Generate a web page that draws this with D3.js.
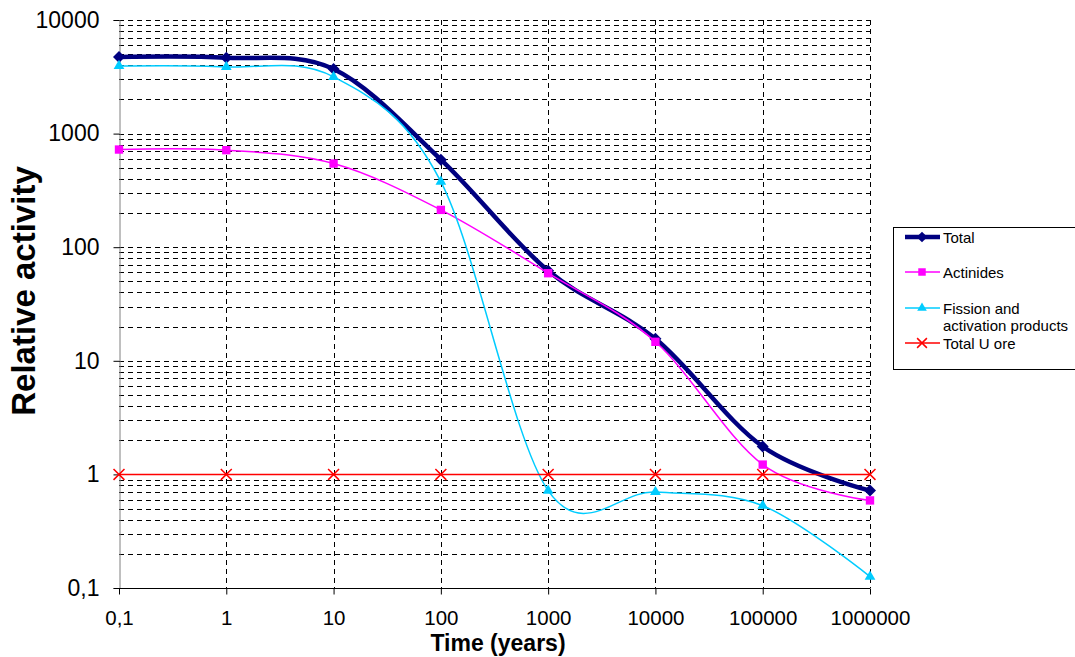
<!DOCTYPE html>
<html>
<head>
<meta charset="utf-8">
<script src="https://cdn.jsdelivr.net/npm/d3@7"></script>
<style>
  body { margin: 0; background: #fff; }
  svg { font-family: Arial, "Liberation Sans", sans-serif; }
</style>
</head>
<body>
<div id="chart"></div>
<script>
// Categories on the x axis (time in years)
const categories = ["0,1", "1", "10", "100", "1000", "10000", "100000", "1000000"];

// Series values
const total = [4720, 4650, 3700, 590, 62, 15.6, 1.76, 0.72];
const actinides = [724, 715, 545, 213, 59, 14.7, 1.22, 0.59];
const fission = [3940, 3870, 3160, 378, 0.72, 0.70, 0.53, 0.126];
const uranium = [1, 1, 1, 1, 1, 1, 1, 1];

const yTicks = [0.1, 1, 10, 100, 1000, 10000];

const seriesList = [
    { name: "Total", values: total, color: "#000080", width: 4.5, symbol: d3.symbolSquare, size: 72, rotate: 45 },
    { name: "Actinides", values: actinides, color: "#FF00FF", width: 1.5, symbol: d3.symbolSquare, size: 70, rotate: 0 },
    { name: "Fission and|activation products", values: fission, color: "#00CCFF", width: 1.5, symbol: d3.symbolTriangle, size: 50, rotate: 0 },
    { name: "Total U ore", values: uranium, color: "#FF0000", width: 1.5, symbol: d3.symbolX, size: 80, rotate: 0 }
];

const W = 1075, H = 657;
const plot = { left: 119, right: 870, top: 20, bottom: 588 };

const svg = d3.select("#chart").append("svg")
    .attr("width", W)
    .attr("height", H);

const x = d3.scalePoint()
    .domain(categories)
    .range([plot.left, plot.right]);

const y = d3.scaleLog()
    .domain([0.1, 10000])
    .range([plot.bottom, plot.top]);

// Horizontal gridlines at every log step
const gridVals = [];
for (let k = -1; k < 4; k++) {
    for (let m = 1; m <= 10; m++) {
        if (m === 1 && k === -1) continue;
        gridVals.push(+(m * Math.pow(10, k)).toPrecision(3));
    }
}
svg.append("g")
    .selectAll("line")
    .data(gridVals)
    .join("line")
        .attr("x1", plot.left)
        .attr("x2", plot.right)
        .attr("y1", d => Math.round(y(d)) + 0.5)
        .attr("y2", d => Math.round(y(d)) + 0.5)
        .attr("stroke", "#000")
        .attr("stroke-width", 1)
        .attr("stroke-dasharray", "5,4");

// Vertical gridlines at categories
svg.append("g")
    .selectAll("line")
    .data(categories.slice(1))
    .join("line")
        .attr("x1", d => Math.round(x(d)) + 0.5)
        .attr("x2", d => Math.round(x(d)) + 0.5)
        .attr("y1", plot.top)
        .attr("y2", plot.bottom)
        .attr("stroke", "#000")
        .attr("stroke-width", 1)
        .attr("stroke-dasharray", "5,4");

// Y axis
const yAxis = svg.append("g")
    .attr("transform", `translate(${plot.left + 0.5},0)`)
    .call(d3.axisLeft(y)
        .tickValues(yTicks)
        .tickSize(6)
        .tickPadding(14)
        .tickFormat(d => String(d).replace(".", ",")));
yAxis.select(".domain").attr("stroke", "#808080");
yAxis.selectAll("line").attr("stroke", "#000");
yAxis.selectAll("text").attr("font-size", 23).attr("fill", "#000");

// X axis
const xAxis = svg.append("g")
    .attr("transform", `translate(0,${plot.bottom + 0.5})`)
    .call(d3.axisBottom(x)
        .tickSize(6)
        .tickPadding(16));
xAxis.select(".domain").attr("stroke", "#000").attr("d", `M${plot.left},0H${plot.right}`);
xAxis.selectAll("line").attr("stroke", "#000");
xAxis.selectAll("text").attr("font-size", 20.5).attr("fill", "#000");

// Lines and markers
const line = d3.line()
    .x((d, i) => x(categories[i]))
    .y(d => y(d))
    .curve(d3.curveCardinal.tension(0));

seriesList.forEach(s => {
    svg.append("path")
        .datum(s.values)
        .attr("fill", "none")
        .attr("stroke", s.color)
        .attr("stroke-width", s.width)
        .attr("d", line);

    svg.append("g")
        .selectAll("path")
        .data(s.values)
        .join("path")
            .attr("transform", (d, i) => `translate(${x(categories[i])},${y(d)}) rotate(${s.rotate})`)
            .attr("d", d3.symbol().type(s.symbol).size(s.size))
            .attr("fill", s.symbol === d3.symbolX ? "none" : s.color)
            .attr("stroke", s.symbol === d3.symbolX ? s.color : "none")
            .attr("stroke-width", 1.5);
});

// Axis titles
svg.append("text")
    .attr("transform", "translate(35,291) rotate(-90)")
    .attr("text-anchor", "middle")
    .attr("font-size", 33)
    .attr("font-weight", "bold")
    .text("Relative activity");

svg.append("text")
    .attr("x", 498)
    .attr("y", 651)
    .attr("text-anchor", "middle")
    .attr("font-size", 23)
    .attr("font-weight", "bold")
    .text("Time (years)");

// Legend
const legend = svg.append("g");
legend.append("rect")
    .attr("x", 893.5)
    .attr("y", 227.5)
    .attr("width", 190)
    .attr("height", 142)
    .attr("fill", "#fff")
    .attr("stroke", "#000");

const legendY = [237, 272, 308, 343];
seriesList.forEach((s, i) => {
    const ly = legendY[i];
    legend.append("line")
        .attr("x1", 905).attr("x2", 940)
        .attr("y1", ly).attr("y2", ly)
        .attr("stroke", s.color)
        .attr("stroke-width", s.width);
    legend.append("path")
        .attr("transform", `translate(922,${ly}) rotate(${s.rotate})`)
        .attr("d", d3.symbol().type(s.symbol).size(s.size * 0.8))
        .attr("fill", s.symbol === d3.symbolX ? "none" : s.color)
        .attr("stroke", s.symbol === d3.symbolX ? s.color : "none")
        .attr("stroke-width", 1.5);
    s.name.split("|").forEach((part, j) => {
        legend.append("text")
            .attr("x", 943)
            .attr("y", ly + 5.5 + j * 17.5)
            .attr("font-size", 15)
            .text(part);
    });
});
</script>
</body>
</html>
